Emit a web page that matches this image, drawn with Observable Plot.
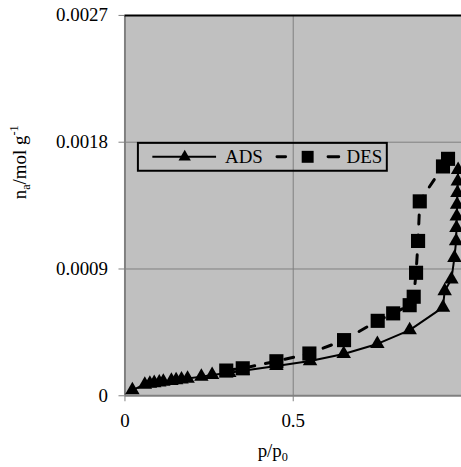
<!DOCTYPE html>
<html>
<head>
<meta charset="utf-8">
<script src="https://cdn.jsdelivr.net/npm/d3@7"></script>
<script src="https://cdn.jsdelivr.net/npm/@observablehq/plot@0.6"></script>
<style>
  html, body { margin: 0; padding: 0; background: #fff; overflow: hidden; }
  svg { display: block; }
  svg text { font-family: "Liberation Serif", "DejaVu Serif", "Times New Roman", Times, serif !important; }
</style>
</head>
<body>
<div id="chart"></div>
<script>
// Adsorption branch (p/p0, n_a in mol/g)
const adsP = [0.022, 0.059, 0.074, 0.087, 0.102, 0.114, 0.138, 0.152, 0.168, 0.186, 0.227, 0.259,
              0.310, 0.350, 0.450, 0.550, 0.650, 0.750, 0.846, 0.945, 0.950, 0.970, 0.979,
              0.984, 0.985, 0.986, 0.987, 0.988, 0.989, 0.990];
const adsN = [0.000040, 0.000080, 0.000086, 0.000091, 0.000096, 0.000100, 0.000107, 0.000111, 0.000116, 0.000122, 0.000136, 0.000148,
              0.000163, 0.000177, 0.000212, 0.000247, 0.000297, 0.000368, 0.000466, 0.000627, 0.000744, 0.000827, 0.000980,
              0.001098, 0.001192, 0.001274, 0.001357, 0.001440, 0.001522, 0.001604];
// Desorption branch
const desP = [0.301, 0.350, 0.450, 0.548, 0.651, 0.751, 0.797, 0.846, 0.858, 0.865, 0.871, 0.876, 0.945, 0.960];
const desN = [0.000179, 0.000195, 0.000245, 0.000300, 0.000395, 0.000532, 0.000585, 0.000643, 0.000703, 0.000873, 0.001099, 0.001380, 0.001628, 0.001682];

const yTicks = [0, 0.0009, 0.0018, 0.0027];
const xTicks = [0, 0.5];
const seriesNames = ["ADS", "DES"];

const ads = adsP.map((p, i) => ({p, n: adsN[i]}));
const des = desP.map((p, i) => ({p, n: desN[i]}));

const FONT = "\"Liberation Serif\", \"DejaVu Serif\", \"Times New Roman\", Times, serif";
const FS = 19;
const triR = 5.4, sqR = 8.0;

const chart = Plot.plot({
  width: 463,
  height: 467,
  marginLeft: 125,
  marginRight: 0,
  marginTop: 15,
  marginBottom: 70,
  style: {fontFamily: FONT, fontSize: FS + "px", color: "#000", background: "transparent", overflow: "visible"},
  x: {domain: [0, 1], label: null},
  y: {domain: [0, 0.0027], label: null},
  marks: [
    Plot.frame({fill: "#c0c0c0", stroke: null}),
    Plot.gridX([0.5], {stroke: "#808080", strokeOpacity: 1, strokeWidth: 1}),
    Plot.gridY([0.0009, 0.0018], {stroke: "#808080", strokeOpacity: 1, strokeWidth: 1}),
    Plot.ruleX([0], {stroke: "#808080", strokeWidth: 2}),
    Plot.ruleY([0], {stroke: "#808080", strokeWidth: 2}),
    Plot.ruleY([0.0027], {stroke: "#000", strokeWidth: 2}),
    Plot.axisY({ticks: yTicks, tickSize: 6, tickPadding: 11, stroke: "#808080",
      tickFormat: d => d === 0 ? "0" : d.toFixed(4), fill: "#000"}),
    Plot.axisX({ticks: xTicks, tickSize: 6, tickPadding: 12, stroke: "#808080",
      tickFormat: d => d === 0 ? "0" : String(d), fill: "#000"}),
    Plot.line(ads, {x: "p", y: "n", stroke: "#000", strokeWidth: 2}),
    Plot.line(des, {x: "p", y: "n", stroke: "#000", strokeWidth: 3, strokeDasharray: "9,11", strokeLinecap: "round"}),
    Plot.dot(ads, {x: "p", y: "n", symbol: "triangle", r: triR, fill: "#000", stroke: null}),
    Plot.dot(des, {x: "p", y: "n", symbol: "square", r: sqR, fill: "#000", stroke: null})
  ]
});

document.getElementById("chart").appendChild(chart);

const svg = d3.select(chart);

// Y axis label
const yl = svg.append("text")
  .attr("transform", "translate(26,163) rotate(-90)")
  .attr("text-anchor", "middle")
  .attr("font-family", FONT).attr("font-size", FS).attr("fill", "#000");
yl.append("tspan").text("n");
yl.append("tspan").attr("font-size", FS * 0.65).attr("dy", 4).text("a");
yl.append("tspan").attr("dy", -4).text("/mol g");
yl.append("tspan").attr("font-size", FS * 0.65).attr("dy", -8).text("-1");

// X axis label
const xl = svg.append("text")
  .attr("x", 274).attr("y", 459)
  .attr("text-anchor", "middle")
  .attr("font-family", FONT).attr("font-size", FS).attr("fill", "#000");
xl.append("tspan").text("p/p");
xl.append("tspan").attr("font-size", FS * 0.65).attr("dy", 4).text("0");

// Legend
const lg = svg.append("g").attr("text-anchor", "start");
lg.append("rect").attr("x", 138.5).attr("y", 143.5).attr("width", 250).attr("height", 28)
  .attr("fill", "none").attr("stroke", "#000").attr("stroke-width", 2);
const ly = 157.5;
lg.append("line").attr("x1", 153).attr("x2", 217).attr("y1", ly).attr("y2", ly)
  .attr("stroke", "#000").attr("stroke-width", 2);
lg.append("path").attr("transform", `translate(185.5,${ly})`)
  .attr("d", d3.symbol(d3.symbolTriangle, Math.PI * 4.6 * 4.6)()).attr("fill", "#000");
lg.append("text").attr("x", 226).attr("y", ly).attr("dy", "0.35em").attr("text-anchor", "start")
  .attr("font-family", FONT).attr("font-size", FS).attr("fill", "#000").text(seriesNames[0]);
[[278.2, 286.8], [329.5, 340.2]].forEach(([a, b]) => {
  lg.append("line").attr("x1", a).attr("x2", b).attr("y1", ly).attr("y2", ly)
    .attr("stroke", "#000").attr("stroke-width", 3).attr("stroke-linecap", "round");
});
lg.append("path").attr("transform", `translate(309,${ly})`)
  .attr("d", d3.symbol(d3.symbolSquare, 144)()).attr("fill", "#000");
lg.append("text").attr("x", 348).attr("y", ly).attr("dy", "0.35em").attr("text-anchor", "start")
  .attr("font-family", FONT).attr("font-size", FS).attr("fill", "#000").text(seriesNames[1]);
</script>
</body>
</html>
